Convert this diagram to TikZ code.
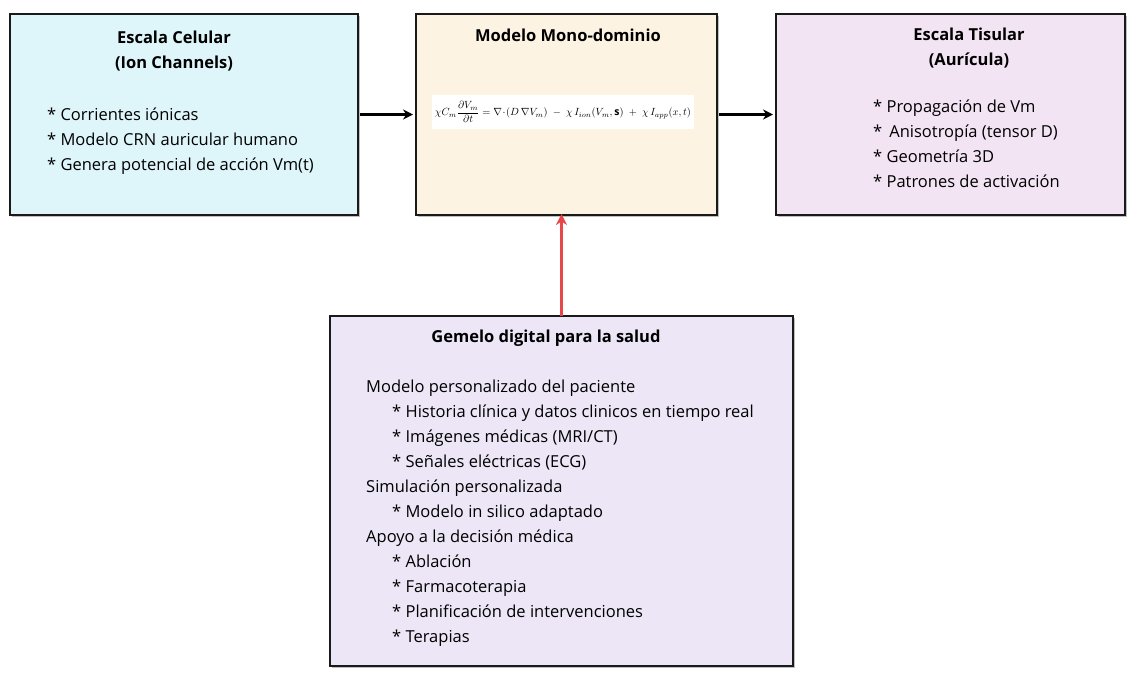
\documentclass[tikz,border=0pt]{standalone}
\usepackage{amsmath}
\usepackage{fontspec}
\setmainfont{Open Sans}
\usetikzlibrary{arrows.meta,shadows}
\usepackage{graphicx}
\definecolor{celfill}{HTML}{DEF5FA}
\definecolor{monofill}{HTML}{FDF3E2}
\definecolor{tisfill}{HTML}{F3E4F4}
\definecolor{gemfill}{HTML}{ECE6F6}
\definecolor{redarrow}{HTML}{E8474A}
\definecolor{boxline}{HTML}{1A1A1A}
\tikzset{
  panel/.style={draw=boxline, line width=2pt, anchor=north west, inner sep=0pt,
    drop shadow={shadow xshift=1.5pt, shadow yshift=-1.5pt, opacity=0.25, fill=black}},
  ttl/.style={font=\fontsize{16.5}{19}\selectfont\bfseries, anchor=base, inner sep=0pt},
  txt/.style={font=\fontsize{16.5}{19}\selectfont, anchor=base west, inner sep=0pt},
  flow/.style={-{Stealth[length=10pt,width=10pt]}, line width=2.4pt, black},
  feed/.style={-{Stealth[length=11pt,width=11pt]}, line width=3.4pt, redarrow},
}
\begin{document}
\begin{tikzpicture}[x=1pt,y=-1pt]
\useasboundingbox (0,0) rectangle (1138,689);
% boxes
\node[panel, fill=celfill, minimum width=348pt, minimum height=201pt] (cel) at (9,13) {};
\node[panel, fill=monofill, minimum width=301pt, minimum height=201pt] (mono) at (415,13) {};
\node[panel, fill=tisfill, minimum width=349pt, minimum height=201pt] (tis) at (775,13) {};
\node[panel, fill=gemfill, minimum width=463pt, minimum height=350pt] (gem) at (329,315) {};
% left text
\node[ttl] (celt1) at (174,43) {Escala Celular};
\node[ttl] (celt2) at (174,68) {(Ion Channels)};
\node[txt] (cel1) at (47,120) {* Corrientes iónicas};
\node[txt] (cel2) at (47,145) {* Modelo CRN auricular humano};
\node[txt] (cel3) at (47,170) {* Genera potencial de acción Vm(t)};
% middle text
\node[ttl] (monot) at (568,41) {Modelo Mono-dominio};
\node[fill=white, minimum width=262pt, minimum height=34pt, inner sep=0pt] (eq) at (563,112)
  {\resizebox{256pt}{!}{$\chi C_m \dfrac{\partial V_m}{\partial t} = \nabla\!\cdot\!\left(D\,\nabla V_m\right) \;-\; \chi\, I_{ion}(V_m,\mathbf{s}) \;+\; \chi\, I_{app}(x,t)$}};
% right text
\node[ttl] (tist1) at (969,40) {Escala Tisular};
\node[ttl] (tist2) at (969,65) {(Aurícula)};
\node[txt] (tis1) at (873,112) {* Propagación de Vm};
\node[txt] (tis2) at (873,137) {*\, Anisotropía (tensor D)};
\node[txt] (tis3) at (873,162) {* Geometría 3D};
\node[txt] (tis4) at (873,187) {* Patrones de activación};
% bottom text
\node[ttl] (gemt) at (546,342) {Gemelo digital para la salud};
\node[txt] (g1) at (366,392) {Modelo personalizado del paciente};
\node[txt] (g2) at (392,417) {* Historia clínica y datos clinicos en tiempo real};
\node[txt] (g3) at (392,442) {* Imágenes médicas (MRI/CT)};
\node[txt] (g4) at (392,467) {* Señales eléctricas (ECG)};
\node[txt] (g5) at (366,492) {Simulación personalizada};
\node[txt] (g6) at (392,517) {* Modelo in silico adaptado};
\node[txt] (g7) at (366,542) {Apoyo a la decisión médica};
\node[txt] (g8) at (392,567) {* Ablación};
\node[txt] (g9) at (392,592) {* Farmacoterapia};
\node[txt] (g10) at (392,617) {* Planificación de intervenciones};
\node[txt] (g11) at (392,642) {* Terapias};
% connectors
\draw[flow] ([xshift=1pt]cel.east) -- ([xshift=-2pt]mono.west);
\draw[flow] ([xshift=1pt]mono.east) -- ([xshift=-2pt]tis.west);
\draw[feed] ([yshift=-1pt]gem.north) -- ([yshift=2pt]mono.south -| gem.north);
\end{tikzpicture}
\end{document}
